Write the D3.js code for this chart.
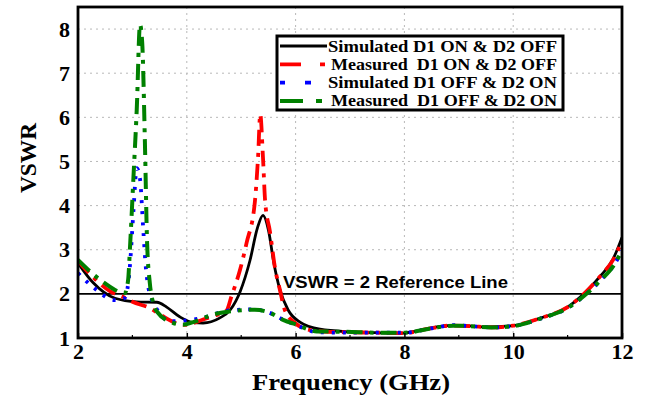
<!DOCTYPE html>
<html>
<head>
<meta charset="utf-8">
<script src="https://cdn.jsdelivr.net/npm/d3@7"></script>
<style>
  html, body { margin: 0; padding: 0; background: #fff; }
  svg { display: block; }
</style>
</head>
<body>
<svg id="chart" width="646" height="400"></svg>
<script>
// VSWR versus frequency for the two diode switching states

const xTicks = [2, 4, 6, 8, 10, 12];
const xMinorTicks = [3, 5, 7, 9, 11];
const yTicks = [1, 2, 3, 4, 5, 6, 7, 8];
const refValue = 2;

const seriesNames = [
  "Simulated D1 ON & D2 OFF",
  "Measured  D1 ON & D2 OFF",
  "Simulated D1 OFF & D2 ON",
  "Measured  D1 OFF & D2 ON"
];

// Simulated, D1 ON & D2 OFF
const simOnFreq = [2.0, 2.28, 2.68, 3.08, 3.45, 3.63, 3.87, 4.12, 4.3, 4.6, 4.8, 4.98, 5.16, 5.3, 5.4, 5.5, 5.6, 5.71, 5.86, 6.08, 6.45, 7.0, 7.5, 7.95, 8.3, 8.8, 9.1, 9.5, 10.0, 10.5, 11.0, 11.3, 11.6, 11.84, 12.0];
const simOnVswr = [2.7, 2.25, 1.9, 1.82, 1.81, 1.7, 1.48, 1.35, 1.34, 1.45, 1.64, 2.05, 2.75, 3.5, 3.78, 3.45, 2.7, 2.1, 1.64, 1.36, 1.2, 1.14, 1.12, 1.11, 1.18, 1.28, 1.28, 1.25, 1.28, 1.45, 1.7, 2.0, 2.4, 2.8, 3.28];

// Measured, D1 ON & D2 OFF
const measOnFreq = [2.0, 2.3, 2.6, 2.85, 3.0, 3.32, 3.55, 3.8, 3.95, 4.1, 4.3, 4.55, 4.73, 4.82, 4.98, 5.1, 5.25, 5.31, 5.35, 5.4, 5.44, 5.53, 5.62, 5.71, 5.8, 5.99, 6.27, 6.6, 7.0, 7.5, 8.0, 8.4, 8.85, 9.2, 9.6, 10.0, 10.5, 11.0, 11.3, 11.6, 11.85, 12.0];
const measOnVswr = [2.75, 2.35, 2.05, 1.92, 1.82, 1.68, 1.5, 1.34, 1.3, 1.33, 1.42, 1.52, 1.62, 1.94, 2.55, 3.16, 4.07, 5.1, 6.07, 5.1, 4.1, 3.4, 2.6, 2.1, 1.64, 1.34, 1.18, 1.14, 1.13, 1.12, 1.11, 1.2, 1.28, 1.27, 1.24, 1.28, 1.45, 1.7, 2.0, 2.4, 2.8, 3.2];

// Simulated, D1 OFF & D2 ON
const simOffFreq = [2.0, 2.28, 2.68, 2.85, 2.93, 2.97, 3.02, 3.08, 3.14, 3.2, 3.24, 3.3, 3.36, 3.45, 3.7, 4.0, 4.3, 4.75, 5.2, 5.5, 5.8, 6.0, 6.4, 7.0, 7.5, 8.0, 8.5, 8.9, 9.2, 9.6, 10.0, 10.5, 11.0, 11.3, 11.6, 11.85, 12.0];
const simOffVswr = [2.47, 2.15, 1.86, 1.9, 2.3, 2.9, 3.9, 4.85, 4.6, 3.45, 2.7, 2.1, 1.86, 1.65, 1.38, 1.4, 1.46, 1.62, 1.65, 1.58, 1.4, 1.3, 1.13, 1.12, 1.12, 1.12, 1.22, 1.29, 1.27, 1.24, 1.27, 1.44, 1.68, 1.95, 2.3, 2.65, 2.98];

// Measured, D1 OFF & D2 ON
const measOffFreq = [2.0, 2.46, 2.86, 2.92, 2.96, 3.02, 3.08, 3.14, 3.18, 3.23, 3.27, 3.32, 3.38, 3.45, 3.75, 3.93, 4.12, 4.45, 4.73, 5.0, 5.25, 5.53, 5.77, 6.02, 6.39, 6.94, 7.5, 8.0, 8.5, 8.9, 9.2, 9.6, 10.0, 10.5, 11.0, 11.3, 11.6, 11.85, 12.0];
const measOffVswr = [2.77, 2.27, 2.02, 2.3, 3.15, 4.66, 6.18, 8.1, 7.7, 5.43, 3.16, 2.25, 1.8, 1.6, 1.34, 1.3, 1.36, 1.52, 1.59, 1.63, 1.64, 1.57, 1.41, 1.3, 1.15, 1.14, 1.12, 1.12, 1.22, 1.28, 1.27, 1.24, 1.27, 1.44, 1.68, 1.95, 2.3, 2.65, 2.98];

const series = [
  { name: seriesNames[0], f: simOnFreq,  v: simOnVswr,  color: "#000000", width: 2.8, dash: null,       key: null },
  { name: seriesNames[1], f: measOnFreq, v: measOnVswr, color: "#ff0000", width: 3.8, dash: "16,7,4,7", key: "21,19,5,40" },
  { name: seriesNames[2], f: simOffFreq, v: simOffVswr, color: "#0000ff", width: 3.8, dash: "3,8",      key: "5,20,6,40" },
  { name: seriesNames[3], f: measOffFreq, v: measOffVswr, color: "#008000", width: 4, dash: "16,7,4,7", key: "23,13,6,40" }
];

const svg = d3.select("#chart");
const plotLeft = 78, plotRight = 622, plotTop = 7, plotBottom = 338;

const x = d3.scaleLinear().domain([2, 12]).range([plotLeft, plotRight]);
const y = d3.scaleLinear().domain([1, 8.5]).range([plotBottom, plotTop]);

const serif = "'Liberation Serif', 'Times New Roman', serif";
const sans = "'Liberation Sans', Arial, sans-serif";

// dotted grid
const grid = svg.append("g").attr("stroke", "#b8b8b8").attr("stroke-width", 1).attr("stroke-dasharray", "2,4");
grid.selectAll("line.v").data(xTicks.filter(t => t > 2 && t < 12)).join("line").attr("class", "v")
  .attr("x1", d => x(d)).attr("x2", d => x(d)).attr("y1", plotTop).attr("y2", plotBottom);
grid.selectAll("line.h").data(yTicks.filter(t => t > 2)).join("line").attr("class", "h")
  .attr("x1", plotLeft).attr("x2", plotRight).attr("y1", d => y(d)).attr("y2", d => y(d));

// reference line
svg.append("line")
  .attr("x1", plotLeft).attr("x2", plotRight).attr("y1", y(refValue)).attr("y2", y(refValue))
  .attr("stroke", "#000").attr("stroke-width", 1.8);
svg.append("text")
  .attr("x", 283).attr("y", y(refValue) - 6)
  .attr("font-family", sans).attr("font-weight", "bold").attr("font-size", 16.5)
  .attr("textLength", 225).attr("lengthAdjust", "spacingAndGlyphs")
  .text("VSWR = 2 Reference Line");

// curves
svg.append("clipPath").attr("id", "plotclip").append("rect")
  .attr("x", plotLeft).attr("y", plotTop).attr("width", plotRight - plotLeft).attr("height", plotBottom - plotTop);

const line = d3.line().x(d => x(d[0])).y(d => y(d[1])).curve(d3.curveMonotoneX);
const curves = svg.append("g").attr("clip-path", "url(#plotclip)");
series.forEach(s => {
  const pts = s.f.map((f, i) => [f, s.v[i]]);
  curves.append("path")
    .attr("d", line(pts))
    .attr("fill", "none")
    .attr("stroke", s.color)
    .attr("stroke-width", s.width)
    .attr("stroke-dasharray", s.dash)
    .attr("stroke-linejoin", "round");
});

// frame
svg.append("rect")
  .attr("x", plotLeft).attr("y", plotTop).attr("width", plotRight - plotLeft).attr("height", plotBottom - plotTop)
  .attr("fill", "none").attr("stroke", "#000").attr("stroke-width", 2.8);

// x axis, ticks pointing inward
const xAxis = d3.axisBottom(x).tickValues(xTicks).tickSize(-5).tickPadding(5).tickFormat(d3.format("d"));
const gx = svg.append("g").attr("transform", `translate(0,${plotBottom})`).call(xAxis);
gx.select(".domain").remove();
gx.selectAll(".tick line").attr("stroke-width", 1.5);
gx.selectAll(".tick text").attr("font-family", serif).attr("font-weight", "bold").attr("font-size", 22).attr("fill", "#000");
svg.append("g").selectAll("line").data(xMinorTicks).join("line")
  .attr("x1", d => x(d)).attr("x2", d => x(d)).attr("y1", plotBottom).attr("y2", plotBottom - 3)
  .attr("stroke", "#000").attr("stroke-width", 1.2);

const yAxis = d3.axisLeft(y).tickValues(yTicks).tickSize(0).tickPadding(8).tickFormat(d3.format("d"));
const gy = svg.append("g").attr("transform", `translate(${plotLeft},0)`).call(yAxis);
gy.select(".domain").remove();
gy.selectAll(".tick text").attr("font-family", serif).attr("font-weight", "bold").attr("font-size", 22).attr("fill", "#000");

// axis titles
svg.append("text")
  .attr("x", 252).attr("y", 390)
  .attr("font-family", serif).attr("font-weight", "bold").attr("font-size", 24)
  .attr("textLength", 198).attr("lengthAdjust", "spacingAndGlyphs")
  .text("Frequency (GHz)");
svg.append("text")
  .attr("transform", "translate(36,193) rotate(-90)")
  .attr("font-family", serif).attr("font-weight", "bold").attr("font-size", 23)
  .attr("textLength", 70).attr("lengthAdjust", "spacingAndGlyphs")
  .text("VSWR");

// legend
const lg = svg.append("g");
lg.append("rect").attr("x", 277).attr("y", 36).attr("width", 286).attr("height", 74)
  .attr("fill", "#fff").attr("stroke", "#000").attr("stroke-width", 3);
const legendTextWidths = [229, 226, 229, 226];
series.forEach((s, i) => {
  const yy = 46 + i * 18.3;
  lg.append("line").attr("x1", 280).attr("x2", 327).attr("y1", yy).attr("y2", yy)
    .attr("stroke", s.color).attr("stroke-width", s.width)
    .attr("stroke-dasharray", s.key);
  lg.append("text").attr("x", i % 2 === 0 ? 328 : 331).attr("y", yy + 5.5)
    .attr("font-family", serif).attr("font-weight", "bold").attr("font-size", 17)
    .attr("textLength", legendTextWidths[i]).attr("lengthAdjust", "spacingAndGlyphs")
    .style("white-space", "pre")
    .text(s.name);
});
</script>
</body>
</html>
